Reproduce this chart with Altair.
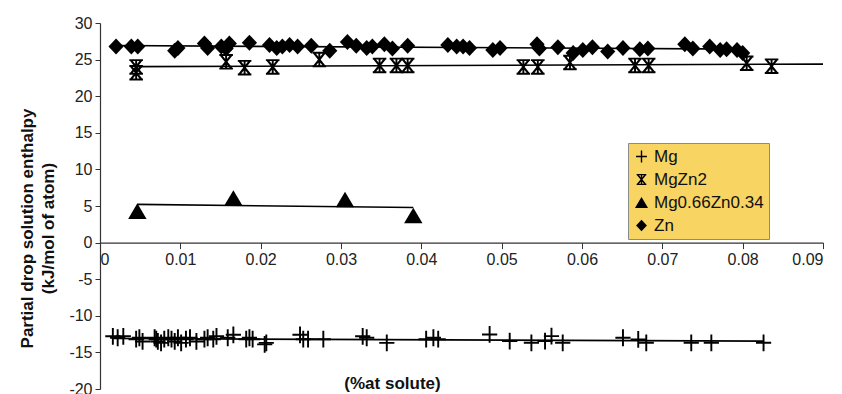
import altair as alt
import pandas as pd

# ---------------- data ----------------
zn_x = [0.0020, 0.0039, 0.0047, 0.0093, 0.0097, 0.0130, 0.0134, 0.0151, 0.0157, 0.0161,
        0.0186, 0.0211, 0.0220, 0.0227, 0.0236, 0.0246, 0.0263, 0.0286, 0.0308, 0.0319,
        0.0332, 0.0339, 0.0354, 0.0364, 0.0383, 0.0433, 0.0444, 0.0452, 0.0460, 0.0489,
        0.0498, 0.0544, 0.0547, 0.0570, 0.0589, 0.0601, 0.0613, 0.0632, 0.0651, 0.0672,
        0.0682, 0.0728, 0.0738, 0.0759, 0.0772, 0.0780, 0.0793, 0.0800]
zn_y = [26.8, 26.8, 26.8, 26.2, 26.6, 27.2, 26.6, 26.8, 26.5, 27.2,
        27.3, 27.0, 26.6, 26.8, 27.0, 26.8, 26.9, 26.2, 27.4, 26.9,
        26.6, 26.8, 27.1, 26.5, 26.9, 27.0, 26.8, 26.8, 26.6, 26.3,
        26.6, 27.1, 26.5, 26.7, 25.9, 26.3, 26.7, 26.1, 26.6, 26.4,
        26.5, 27.1, 26.5, 26.8, 26.3, 26.4, 26.3, 25.9]

mgzn2_x = [0.0045, 0.0045, 0.0157, 0.0180, 0.0215, 0.0273, 0.0348, 0.0369, 0.0383,
           0.0527, 0.0545, 0.0585, 0.0666, 0.0683, 0.0805, 0.0836]
mgzn2_y = [24.0, 23.2, 24.7, 23.9, 24.0, 25.0, 24.2, 24.2, 24.2,
           24.0, 24.0, 24.6, 24.2, 24.2, 24.5, 24.1]

mgzn_x = [0.00465, 0.0166, 0.0305, 0.0390]
mgzn_y = [4.3, 6.1, 5.9, 3.7]

mg_x = [0.0016, 0.0022, 0.0029, 0.0045, 0.0049, 0.0053, 0.0068, 0.0070, 0.0072, 0.0076,
        0.0080, 0.0085, 0.0089, 0.0093, 0.0097, 0.0101, 0.0107, 0.0112, 0.0120, 0.0130,
        0.0134, 0.0141, 0.0145, 0.0159, 0.0166, 0.0182, 0.0186, 0.0190, 0.0205, 0.0207,
        0.0249, 0.0253, 0.0259, 0.0278, 0.0327, 0.0332, 0.0357, 0.0406, 0.0415, 0.0421,
        0.0485, 0.0510, 0.0537, 0.0554, 0.0562, 0.0576, 0.0651, 0.0670, 0.0680, 0.0736,
        0.0761, 0.0826]
mg_y = [-12.8, -13.0, -12.8, -13.2, -13.0, -13.5, -13.0, -13.2, -13.5, -13.7,
        -13.2, -13.0, -13.2, -13.5, -13.0, -13.7, -13.2, -13.0, -13.5, -13.2,
        -13.0, -13.2, -12.8, -13.0, -12.6, -13.2, -13.0, -13.2, -13.9, -13.7,
        -12.6, -13.2, -13.2, -13.2, -12.8, -13.0, -13.7, -13.2, -13.0, -13.2,
        -12.55, -13.46, -13.69, -13.46, -12.78, -13.69, -13.0, -13.23, -13.69, -13.69,
        -13.69, -13.69]

series_names = ["Mg", "MgZn2", "Mg0.66Zn0.34", "Zn"]
x_ticks = [0, 0.01, 0.02, 0.03, 0.04, 0.05, 0.06, 0.07, 0.08, 0.09]
y_ticks = [-20, -15, -10, -5, 0, 5, 10, 15, 20, 25, 30]

# ---------------- table ----------------
rows = []
for name, xs, ys in [("Mg", mg_x, mg_y), ("MgZn2", mgzn2_x, mgzn2_y),
                     ("Mg0.66Zn0.34", mgzn_x, mgzn_y), ("Zn", zn_x, zn_y)]:
    for a, b in zip(xs, ys):
        rows.append({"x": a, "y": b, "series": name})
df = pd.DataFrame(rows)

W, H = 723, 366
FONT = "Liberation Sans"

# marker shapes as filled outlines in the unit box (scaled by symbol size)
plus_path = "M-0.95,-0.12H0.95V0.12H-0.95Z M-0.12,-1.05H0.12V1.05H-0.12Z"
hour_path = ("M-0.85,-0.97H0.85V-0.73H-0.85Z M-0.85,0.73H0.85V0.97H-0.85Z "
             "M-0.12,-0.85H0.12V0.85H-0.12Z "
             "M-0.85,-0.85L-0.51,-0.85L0.85,0.85L0.51,0.85Z "
             "M0.51,-0.85L0.85,-0.85L-0.51,0.85L-0.85,0.85Z")
tri_path = "M0,-0.97L1.15,0.97L-1.15,0.97Z"
dia_path = "M0,-1.0L0.95,0L0,1.0L-0.95,0Z"

x_scale = alt.Scale(domain=[0, 0.09], nice=False, zero=False)
y_scale = alt.Scale(domain=[-20, 30], nice=False, zero=False)

x_axis = alt.Axis(values=x_ticks, format="~g", offset=-H * 20 / 50, tickSize=6,
                  labelFontSize=16, labelPadding=3, grid=False, labelOverlap=False,
                  title="(%at solute)", titleFontSize=17, titleFontWeight="bold",
                  titleX=292, titleY=146, titleBaseline="alphabetic", titleAlign="center")
y_axis = alt.Axis(values=y_ticks, tickSize=5, labelFontSize=16, labelPadding=3, grid=False,
                  labelOverlap=False, labelExpr="replace(datum.label, '\u2212', '-')",
                  title=["Partial drop solution enthalpy", "(kJ/mol of atom)"],
                  titleFontSize=17, titleFontWeight="bold", titleAngle=270,
                  titleX=-64, titleY=205, titleBaseline="bottom", titleAlign="center",
                  titleLineHeight=21)

X = alt.X("x:Q", scale=x_scale, axis=x_axis)
Y = alt.Y("y:Q", scale=y_scale, axis=y_axis)

legend = alt.Legend(
    title=None, orient="none", legendX=528, legendY=120,
    symbolFillColor="black", symbolStrokeColor="black", symbolStrokeWidth=0.5,
    symbolOpacity=1, symbolSize=130,
)

points = alt.Chart(df).mark_point(filled=True, color="black", opacity=1, size=256).encode(
    x=X, y=Y,
    shape=alt.Shape("series:N",
                    scale=alt.Scale(domain=series_names,
                                    range=[plus_path, hour_path, tri_path, dia_path]),
                    legend=legend),
)

lines_a = alt.Chart(df).transform_filter(
    alt.FieldOneOfPredicate(field="series", oneOf=["Mg", "Mg0.66Zn0.34", "Zn"])
).transform_regression("x", "y", groupby=["series"]).mark_line(
    color="black", strokeWidth=1.6
).encode(x=X, y=Y, detail="series:N")

lines_b = alt.Chart(df).transform_filter(
    alt.FieldEqualPredicate(field="series", equal="MgZn2")
).transform_regression("x", "y", extent=[0.0045, 0.09]).mark_line(
    color="black", strokeWidth=1.6
).encode(x=X, y=Y)

chart = alt.layer(points, lines_a, lines_b).properties(
    width=W, height=H,
    autosize=alt.AutoSizeParams(type="none"),
    padding={"left": 92, "top": 15, "right": 3, "bottom": 6},
    background="white",
).configure_view(stroke=None).configure_axis(
    labelFont=FONT, titleFont=FONT, domainColor="#333", tickColor="#333",
    labelColor="#222", titleColor="#111", domainWidth=1.2, labelOverlap=False
).configure_axisY(labelOverlap=False, tickCount=11).configure_legend(
    labelFont=FONT, labelFontSize=17, labelColor="#111",
    fillColor="#F8D462", strokeColor="#8a8a8a", padding=5,
    rowPadding=5, labelOffset=4, symbolOffset=0
)

chart.save("out.html", embed_options={"renderer": "svg", "actions": False})
